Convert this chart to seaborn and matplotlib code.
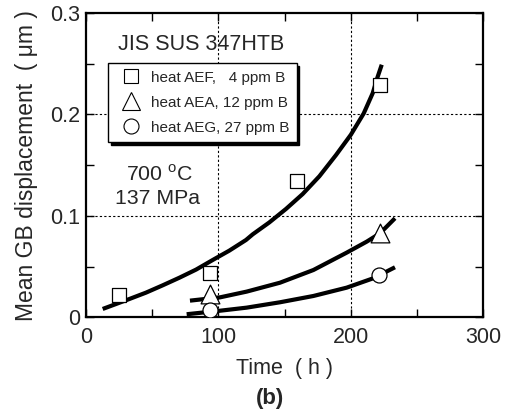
import matplotlib
matplotlib.use("Agg")
import matplotlib.pyplot as plt
from matplotlib.lines import Line2D
import pandas as pd
import seaborn as sns

# Measured grain-boundary displacement, 700 C / 137 MPa
aef_time = [25, 94, 159, 222]
aef_disp = [0.022, 0.044, 0.134, 0.229]
aea_time = [94, 222]
aea_disp = [0.023, 0.083]
aeg_time = [94, 221.5]
aeg_disp = [0.007, 0.042]

# Fitted trend curves
aef_fit_t = [12.6, 22.7, 32.7, 45.3, 57.9, 70.5, 83.1, 95.7, 108.2, 120.8,
             125.9, 138.4, 151, 163.6, 176.2, 188.8, 200, 209.7, 216.5,
             220.2, 223.3]
aef_fit_y = [0.0082, 0.0131, 0.018, 0.0243, 0.0315, 0.039, 0.047, 0.0565,
             0.0657, 0.0762, 0.0818, 0.0935, 0.1068, 0.1215, 0.139, 0.160,
             0.180, 0.201, 0.221, 0.237, 0.249]
aea_fit_t = [78.5, 101.4, 121.3, 146.5, 171.7, 196.8, 212, 222, 233.3]
aea_fit_y = [0.0164, 0.0197, 0.0253, 0.0341, 0.0466, 0.0637, 0.0746, 0.0828,
             0.0976]
aeg_fit_t = [76, 101.4, 121.3, 146.5, 171.7, 196.8, 217, 233.3]
aeg_fit_y = [0.003, 0.0065, 0.0095, 0.0148, 0.021, 0.0292, 0.0385, 0.0493]

labels = ["heat AEF,   4 ppm B", "heat AEA, 12 ppm B", "heat AEG, 27 ppm B"]
markers = ["s", "^", "o"]
msizes = [10.5, 13.5, 10.8]

sns.set_style("ticks")
plt.rcParams["font.family"] = ["Liberation Sans", "DejaVu Sans"]
plt.rcParams["mathtext.fontset"] = "custom"
plt.rcParams["mathtext.rm"] = "Liberation Sans"

fig = plt.figure(figsize=(5.14, 4.16), dpi=100)
ax = fig.add_axes([0.1673, 0.2373, 0.773, 0.7315])

fits = [(aef_fit_t, aef_fit_y), (aea_fit_t, aea_fit_y), (aeg_fit_t, aeg_fit_y)]
for t, y in fits:
    df = pd.DataFrame({"t": t, "y": y})
    sns.lineplot(data=df, x="t", y="y", ax=ax, color="black", lw=3.0,
                 estimator=None, sort=False, zorder=3)
for line in ax.lines:
    line.set_solid_joinstyle("round")
    line.set_solid_capstyle("butt")

pts = [(aef_time, aef_disp), (aea_time, aea_disp), (aeg_time, aeg_disp)]
for (t, y), m, ms in zip(pts, markers, msizes):
    df = pd.DataFrame({"t": t, "y": y})
    sns.scatterplot(data=df, x="t", y="y", ax=ax, marker=m, s=ms ** 2,
                    facecolor="white", edgecolor="black", linewidth=0.9,
                    zorder=4)

ax.set_xlim(0, 300)
ax.set_ylim(0, 0.3)
ax.set_xticks([0, 100, 200, 300])
ax.set_xticklabels(["0", "100", "200", "300"])
ax.set_yticks([0, 0.1, 0.2, 0.3])
ax.set_yticklabels(["0", "0.1", "0.2", "0.3"])
ax.set_xticks([50, 150, 250], minor=True)
ax.set_yticks([0.05, 0.15, 0.25], minor=True)
ax.tick_params(which="both", direction="in", top=True, right=True,
               length=6, width=1.0, color="black", labelsize=15.5)
ax.tick_params(axis="x", pad=7)
ax.tick_params(axis="y", pad=4)
for s in ax.spines.values():
    s.set_linewidth(1.6)
    s.set_color("black")

for xv in [100, 200]:
    ax.axvline(xv, color="black", lw=0.8, ls=(0, (2, 2)), zorder=1)
for yv in [0.1, 0.2]:
    ax.axhline(yv, color="black", lw=0.8, ls=(0, (2, 2)), zorder=1)

ax.set_xlabel("Time  ( h )", fontsize=15.5, labelpad=7)
ax.set_ylabel("Mean GB displacement  ( μm )", fontsize=16.5, labelpad=9)

ax.text(0.08, 0.895, "JIS SUS 347HTB", transform=ax.transAxes,
        fontsize=15.5, va="center", ha="left")
ax.text(0.10, 0.47, "700 $^{\\mathrm{o}}$C", transform=ax.transAxes,
        fontsize=15.3, va="center", ha="left")
ax.text(0.073, 0.39, "137 MPa", transform=ax.transAxes,
        fontsize=15.3, va="center", ha="left")

handles = [Line2D([], [], ls="none", marker=m, ms=ms, mfc="white",
                  mec="black", mew=0.8) for m, ms in zip(markers, msizes)]
leg = ax.legend(handles, labels, loc="upper left",
                bbox_to_anchor=(0.055, 0.836), borderaxespad=0,
                fontsize=11, frameon=True, fancybox=False,
                shadow={"color": "black", "alpha": 1},
                handletextpad=0.3, handlelength=2.0, labelspacing=0.72,
                borderpad=0.5)
leg.get_frame().set_edgecolor("black")
leg.get_frame().set_linewidth(1.0)
leg.set_zorder(5)

fig.text(0.525, 0.043, "(b)", fontsize=16, fontweight="bold",
         ha="center", va="center")

fig.savefig("out.png", dpi=100)
